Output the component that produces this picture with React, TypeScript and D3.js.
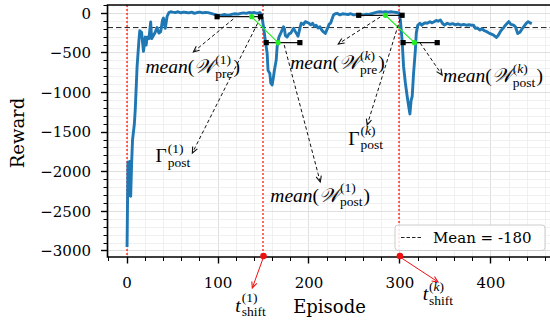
import { useEffect, useRef } from "react"
import * as d3 from "d3"

// reward curve
const episodes = [
  0, 1, 2, 3, 4, 5, 6, 8, 9, 11, 13, 14, 16, 18, 20, 21, 22, 24, 26, 27, 29, 31, 33, 35, 37, 39, 40, 42, 44, 46, 48,
  50, 53, 56, 59, 62, 65, 68, 71, 74, 77, 80, 83, 86, 89, 92, 95, 98, 101, 104, 107, 110, 113, 116, 119, 122, 125,
  128, 131, 134, 137, 140, 143, 146, 148, 150, 152, 154, 155, 157, 158, 159.5, 161, 162, 164, 165, 167, 169, 170.5,
  172, 173, 174, 176, 178, 180, 183, 186, 188, 190, 191.5, 194, 196, 198, 200, 202, 204, 206, 208, 210, 212, 214,
  216, 218, 220, 222, 224, 225, 227, 229, 231, 234, 237, 240, 243, 246, 249, 252, 254, 257, 260, 263, 266, 269, 272,
  275, 278, 281, 284, 287, 290, 293, 296, 299, 300.5, 302.4, 304, 306, 308, 309.7, 311, 312.3, 313.5, 315, 317, 318,
  319.6, 322, 324, 326, 328, 330, 333, 335, 337, 340, 342, 344.5, 347, 349, 352, 355, 358, 361, 364, 367, 370, 373,
  376, 379, 381, 383, 385, 388, 390, 393, 396, 398, 400, 403, 406, 408, 411, 414, 416, 419.6, 422, 425, 427, 429.5,
  432, 434, 436, 439, 441, 443, 445,
]
const rewards = [
  -2950, -1880, -2300, -1870, -2310, -1900, -1600, -1400, -1220, -680, -350, -220, -240, -480, -300, -400, -300, -320,
  -110, -320, -280, -240, -180, -250, -230, -85, -60, -190, -40, 10, 20,
  15, 10, 20, 5, 15, 10, 5, 15, 0, 10, 15, 5, 12, 8, 0, -10, -20, -30, -25, -15, -25, -20, -10, -5, -10, 0,
  5, 0, 10, 5, 10, 0, 10, -20, -170, -340, -500, -720, -760, -880, -905, -800, -720, -590, -420, -300, -250, -210,
  -170, -190, -280, -300, -260, -250, -190, -250, -290, -190, -125, -140, -105, -115, -125, -145, -125, -165, -150,
  -185, -170, -210, -235, -255, -200, -140, -120, -85, -20, -5, 0, -20, -5, -10, -15, -5, -20, -15, -25, -15, -20,
  -10, -15, -5, 5, 15, 20, 15, 20, 15, 20, 15, 10, 5, -85, -340, -670, -880, -1050, -1180, -1270, -1100, -1050,
  -760, -460, -250, -150, -125, -150, -130, -120, -125, -105, -120, -110, -90, -100, -85, -130, -150, -125, -140,
  -130, -145, -135, -150, -140, -150, -145, -150, -150, -190, -185, -210, -195, -220, -235, -250, -260, -275, -305,
  -280, -220, -180, -150, -105, -140, -150, -170, -255, -240, -200, -170, -125, -105, -120, -130,
]

const meanReward = -180
const shiftEpisodes = [0, 150, 300]
const markedShifts = [150, 300]
const episodeTicks = [0, 100, 200, 300, 400]
const rewardTicks = [0, -500, -1000, -1500, -2000, -2500, -3000]

// pre / post windows: [start, end, mean, marked episode]
const preWindows = [
  [99, 146.7, -43, 137],
  [254.7, 302.4, -25, 284],
]
const postWindows = [
  [153, 190, -370, 166],
  [303.5, 341, -370, 316],
]

// annotations in data coords: arrow tail, arrow head, text anchor
const annotations = [
  { from: [116.8, -72], to: [72.9, -488], text: [20.2, -754], head: "mean", sup: "1", sub: "pre" },
  { from: [146.5, -59], to: [71.8, -1763], text: [31.2, -1877], head: "gamma", sup: "1", sub: "post" },
  { from: [172.8, -400], to: [212.4, -2129], text: [157.5, -2381], head: "mean", sup: "1", sub: "post" },
  { from: [278.3, -47], to: [232.2, -387], text: [179.4, -703], head: "mean", sup: "k", sub: "pre" },
  { from: [300.2, -72], to: [264, -1410], text: [243.1, -1662], head: "gamma", sup: "k", sub: "post" },
  { from: [322.3, -375], to: [346.4, -779], text: [347.5, -867], head: "mean", sup: "k", sub: "post" },
]
const shiftLabels = [
  { at: 150, to: [137.7, -3467], text: [119, -3770], sup: "1" },
  { at: 300, to: [341.9, -3391], text: [325, -3620], sup: "k" },
]

const W = 550
const H = 324
const SERIF = "'DejaVu Serif', serif"
const MATH = "'Liberation Serif', 'Times New Roman', serif"

const App = () => {
  const svgRef = useRef<SVGSVGElement>(null)

  useEffect(() => {
    const svg = d3.select(svgRef.current)
    svg.selectAll("*").remove()

    const left = 107.5
    const top = 5
    const bottom = 257
    const right = 560

    const x = d3.scaleLinear().domain([-21.5, 476]).range([left, right])
    const y = d3.scaleLinear().domain([-3076, 105]).range([bottom, top])
    const snap = (v) => Math.round(v - 0.5) + 0.5

    svg
      .append("defs")
      .append("clipPath")
      .attr("id", "plot-clip")
      .append("rect")
      .attr("x", left)
      .attr("y", top)
      .attr("width", right - left)
      .attr("height", bottom - top)

    // grid
    const grid = svg.append("g")
    const minorX = d3.range(-20, 476, 20)
    const minorY = d3.range(-3000, 101, 100)
    grid
      .selectAll(".gx")
      .data(minorX)
      .enter()
      .append("line")
      .attr("x1", (d) => snap(x(d)))
      .attr("x2", (d) => snap(x(d)))
      .attr("y1", top)
      .attr("y2", bottom)
      .attr("stroke", (d) => (d % 100 === 0 ? "#dddddd" : "#eeeeee"))
      .attr("stroke-width", 0.9)
    grid
      .selectAll(".gy")
      .data(minorY)
      .enter()
      .append("line")
      .attr("x1", left)
      .attr("x2", right)
      .attr("y1", (d) => snap(y(d)))
      .attr("y2", (d) => snap(y(d)))
      .attr("stroke", (d) => (d % 500 === 0 ? "#dddddd" : "#eeeeee"))
      .attr("stroke-width", 0.9)

    const plot = svg.append("g").attr("clip-path", "url(#plot-clip)")

    // shift markers (kept on an even pixel pair so the red survives)
    const pair = (v) => Math.floor(v / 2) * 2 + 1
    plot
      .selectAll(".shift")
      .data(shiftEpisodes)
      .enter()
      .append("line")
      .attr("x1", (d) => pair(x(d)))
      .attr("x2", (d) => pair(x(d)))
      .attr("y1", top)
      .attr("y2", bottom)
      .attr("stroke", "#ff0000")
      .attr("stroke-width", 1.2)
      .attr("stroke-dasharray", "2 2")

    // mean line
    plot
      .append("line")
      .attr("x1", left)
      .attr("x2", right)
      .attr("y1", y(meanReward))
      .attr("y2", y(meanReward))
      .attr("stroke", "#222")
      .attr("stroke-width", 1)
      .attr("stroke-dasharray", "5.5 3")

    // reward curve
    const line = d3
      .line<number>()
      .x((d, i) => x(episodes[i]))
      .y((d) => y(d))
    plot
      .append("path")
      .attr("d", line(rewards))
      .attr("fill", "none")
      .attr("stroke", "#1f77b4")
      .attr("stroke-width", 2.9)
      .attr("stroke-linejoin", "round")

    // windows
    const windows = [...preWindows, ...postWindows]
    windows.forEach(([s, e, v]) => {
      plot
        .append("line")
        .attr("x1", x(s))
        .attr("x2", x(e))
        .attr("y1", y(v))
        .attr("y2", y(v))
        .attr("stroke", "#111")
        .attr("stroke-width", 1.3)
      ;[s, e].forEach((p) => {
        plot
          .append("rect")
          .attr("x", x(p) - 2.6)
          .attr("y", y(v) - 2.6)
          .attr("width", 5.2)
          .attr("height", 5.2)
          .attr("fill", "#000")
      })
    })
    preWindows.forEach((pre, i) => {
      const post = postWindows[i]
      plot
        .append("line")
        .attr("x1", x(pre[3]))
        .attr("y1", y(pre[2]))
        .attr("x2", x(post[3]))
        .attr("y2", y(post[2]))
        .attr("stroke", "#22ee22")
        .attr("stroke-width", 1.2)
      ;[pre, post].forEach((w) => {
        plot.append("circle").attr("cx", x(w[3])).attr("cy", y(w[2])).attr("r", 2.6).attr("fill", "#22ee22")
      })
    })

    // spines + ticks
    const axes = svg.append("g")
    axes
      .append("path")
      .attr("d", `M${right},${top}H${left}V${bottom}H${right}`)
      .attr("fill", "none")
      .attr("stroke", "#000")
      .attr("stroke-width", 1.6)

    minorX.forEach((d) => {
      const major = d % 100 === 0
      axes
        .append("line")
        .attr("x1", snap(x(d)))
        .attr("x2", snap(x(d)))
        .attr("y1", bottom)
        .attr("y2", bottom + (major ? 6.5 : 4))
        .attr("stroke", "#000")
        .attr("stroke-width", major ? 1.4 : 1)
    })
    minorY.forEach((d) => {
      const major = d % 500 === 0
      axes
        .append("line")
        .attr("x1", left)
        .attr("x2", left - (major ? 6.5 : 4))
        .attr("y1", snap(y(d)))
        .attr("y2", snap(y(d)))
        .attr("stroke", "#000")
        .attr("stroke-width", major ? 1.4 : 1)
    })
    axes
      .selectAll(".xl")
      .data(episodeTicks)
      .enter()
      .append("text")
      .attr("x", (d) => x(d))
      .attr("y", 288)
      .attr("text-anchor", "middle")
      .style("font-family", SERIF)
      .style("font-size", "15px")
      .text((d) => d)
    axes
      .selectAll(".yl")
      .data(rewardTicks)
      .enter()
      .append("text")
      .attr("x", 91)
      .attr("y", (d) => y(d) + 5.3)
      .attr("text-anchor", "end")
      .style("font-family", SERIF)
      .style("font-size", "15px")
      .text((d) => (d < 0 ? "\u2212" + Math.abs(d) : d))

    svg
      .append("text")
      .attr("x", 329.5)
      .attr("y", 313)
      .attr("text-anchor", "middle")
      .style("font-family", SERIF)
      .style("font-size", "18px")
      .text("Episode")
    svg
      .append("text")
      .attr("transform", "translate(24,133) rotate(-90)")
      .attr("text-anchor", "middle")
      .style("font-family", SERIF)
      .style("font-size", "18px")
      .text("Reward")

    // arrows
    const arrow = (x1, y1, x2, y2, color, dashed) => {
      svg
        .append("line")
        .attr("x1", x1)
        .attr("y1", y1)
        .attr("x2", x2)
        .attr("y2", y2)
        .attr("stroke", color)
        .attr("stroke-width", 1)
        .attr("stroke-dasharray", dashed ? "3.5 2.5" : null)
      const a = Math.atan2(y2 - y1, x2 - x1)
      const len = 6.5
      const p = [a + Math.PI - 0.42, a + Math.PI + 0.42].map((b) => [x2 + len * Math.cos(b), y2 + len * Math.sin(b)])
      svg
        .append("path")
        .attr("d", `M${p[0][0]},${p[0][1]}L${x2},${y2}L${p[1][0]},${p[1][1]}`)
        .attr("fill", "none")
        .attr("stroke", color)
        .attr("stroke-width", 1.1)
    }

    const mathLabel = (px, py, head, sup, sub, close) => {
      const size = 19.5
      const small = "13.5px"
      const t = svg
        .append("text")
        .attr("x", px)
        .attr("y", py)
        .style("font-family", MATH)
        .style("font-size", size + "px")
      if (head === "mean") {
        t.append("tspan").style("font-style", "italic").text("mean")
        t.append("tspan").text("(")
        t.append("tspan").style("font-style", "italic").text("\uD835\uDCB2")
      } else if (head === "gamma") {
        t.append("tspan").text("\u0393")
      } else {
        t.append("tspan").style("font-style", "italic").text("t")
      }
      const w = (t.node() as SVGTextElement).getComputedTextLength()
      const s1 = svg
        .append("text")
        .attr("x", px + w + 1)
        .attr("y", py - 9.5)
        .style("font-family", MATH)
        .style("font-size", small)
      s1.append("tspan").text("(")
      s1.append("tspan")
        .style("font-style", sup === "k" ? "italic" : "normal")
        .text(sup)
      s1.append("tspan").text(")")
      const s2 = svg
        .append("text")
        .attr("x", px + w + 1)
        .attr("y", py + 4.5)
        .style("font-family", MATH)
        .style("font-size", small)
        .text(sub)
      const w2 = Math.max(
        (s1.node() as SVGTextElement).getComputedTextLength(),
        (s2.node() as SVGTextElement).getComputedTextLength(),
      )
      if (close) {
        svg
          .append("text")
          .attr("x", px + w + w2 + 2)
          .attr("y", py)
          .style("font-family", MATH)
          .style("font-size", size + "px")
          .text(close)
      }
    }

    annotations.forEach((a) => {
      arrow(x(a.from[0]), y(a.from[1]), x(a.to[0]), y(a.to[1]), "#111", true)
      mathLabel(x(a.text[0]), y(a.text[1]), a.head, a.sup, a.sub, a.head === "mean" ? ")" : null)
    })

    shiftLabels.forEach((s) => {
      arrow(x(s.at), bottom, x(s.to[0]), y(s.to[1]), "#ee1111", false)
      mathLabel(x(s.text[0]), y(s.text[1]), "t", s.sup, "shift", null)
    })
    markedShifts.forEach((d) => {
      svg.append("circle").attr("cx", x(d)).attr("cy", bottom - 1).attr("r", 3.3).attr("fill", "#ee1111")
    })

    // legend
    const lg = svg.append("g")
    lg.append("rect")
      .attr("x", 395)
      .attr("y", 225)
      .attr("width", 150)
      .attr("height", 25.5)
      .attr("rx", 3)
      .attr("fill", "#fff")
      .attr("fill-opacity", 0.85)
      .attr("stroke", "#cccccc")
      .attr("stroke-width", 1)
    lg.append("line")
      .attr("x1", 401)
      .attr("x2", 421)
      .attr("y1", 237.5)
      .attr("y2", 237.5)
      .attr("stroke", "#222")
      .attr("stroke-width", 1)
      .attr("stroke-dasharray", "3.5 2")
    lg.append("text")
      .attr("x", 433)
      .attr("y", 243)
      .style("font-family", SERIF)
      .style("font-size", "15px")
      .text(`Mean = ${meanReward}`)
  }, [])

  return (
    <svg
      ref={svgRef}
      width={W}
      height={H}
      style={{ position: "absolute", left: 0, top: 0, background: "#fff" }}
    ></svg>
  )
}

export default App
